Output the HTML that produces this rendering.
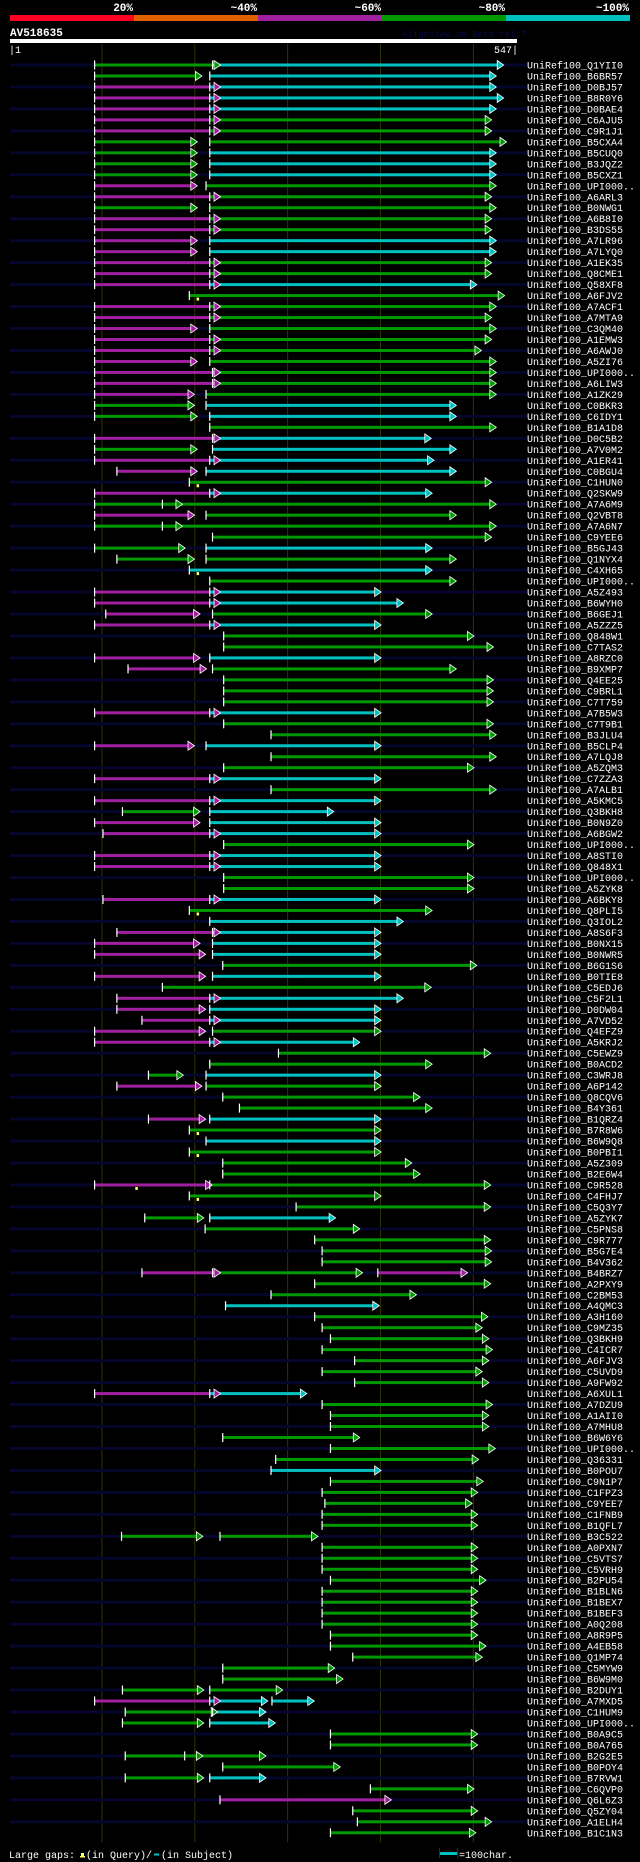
<!DOCTYPE html>
<html><head><meta charset="utf-8">
<style>
html,body{margin:0;padding:0;background:#000;}
svg{display:block;}
text{font-family:"Liberation Mono",monospace;}
</style></head>
<body>
<svg id="chart" width="640" height="1862" viewBox="0 0 640 1862" xmlns="http://www.w3.org/2000/svg">
<rect x="0" y="0" width="640" height="1862" fill="#000"/>
<g>
<text x="133" y="11" fill="#fff" font-size="11" font-weight="bold" text-anchor="end">20%</text>
<text x="257" y="11" fill="#fff" font-size="11" font-weight="bold" text-anchor="end">~40%</text>
<text x="381" y="11" fill="#fff" font-size="11" font-weight="bold" text-anchor="end">~60%</text>
<text x="505" y="11" fill="#fff" font-size="11" font-weight="bold" text-anchor="end">~80%</text>
<text x="629" y="11" fill="#fff" font-size="11" font-weight="bold" text-anchor="end">~100%</text>
<rect x="10" y="15" width="124" height="6" fill="#ff0020"/>
<rect x="134" y="15" width="124" height="6" fill="#e06000"/>
<rect x="258" y="15" width="124" height="6" fill="#a020a0"/>
<rect x="382" y="15" width="124" height="6" fill="#009900"/>
<rect x="506" y="15" width="124" height="6" fill="#00c0c0"/>
</g>
<text x="10" y="36" fill="#fff" font-size="11" font-weight="bold">AV518635</text>
<text x="402" y="37" fill="#0a0a4a" font-size="9">AlignView.pm Beta rel.7</text>
<rect x="10" y="39" width="507" height="4" fill="#fff"/>
<text x="9" y="53" fill="#fff" font-size="10">|1</text>
<text x="518" y="53" fill="#fff" font-size="10" text-anchor="end">547|</text>
<g id="grid"></g>
<g id="rows"></g>
<g>
<text x="9" y="1858" fill="#fff" font-size="10">Large gaps:</text>
<rect x="81" y="1853" width="3" height="4" fill="#ffff66"/>
<rect x="80" y="1856" width="5" height="1.5" fill="#ffff66"/>
<text x="86" y="1858" fill="#fff" font-size="10">(in Query)/</text>
<rect x="154" y="1853.5" width="5" height="2" fill="#00c0c0"/>
<text x="161" y="1858" fill="#fff" font-size="10">(in Subject)</text>
<rect x="439" y="1848" width="1" height="10" fill="#333300"/>
<rect x="457" y="1848" width="1" height="10" fill="#333300"/>
<rect x="440" y="1852" width="17" height="3" fill="#00c0c0"/>
<text x="459" y="1858" fill="#fff" font-size="10">=100char.</text>
</g>
</svg>
<script>
const labels = ["Q1YII0","B6BR57","D0BJ57","B8R0Y6","D0BAE4","C6AJU5","C9R1J1","B5CXA4","B5CUQ0","B3JQZ2","B5CXZ1","UPI000..","A6ARL3","B0NWG1","A6B8I0","B3DS55","A7LR96","A7LYQ0","A1EK35","Q8CME1","Q58XF8","A6FJV2","A7ACF1","A7MTA9","C3QM40","A1EMW3","A6AWJ0","A5ZI76","UPI000..","A6LIW3","A1ZK29","C0BKR3","C6IDY1","B1A1D8","D0C5B2","A7V0M2","A1ER41","C0BGU4","C1HUN0","Q2SKW9","A7A6M9","Q2VBT8","A7A6N7","C9YEE6","B5GJ43","Q1NYX4","C4XH65","UPI000..","A5Z493","B6WYH0","B6GEJ1","A5ZZZ5","Q848W1","C7TAS2","A8RZC0","B9XMP7","Q4EE25","C9BRL1","C7T759","A7B5W3","C7T9B1","B3JLU4","B5CLP4","A7LQJ8","A5ZQM3","C7ZZA3","A7ALB1","A5KMC5","Q3BKH8","B0N9Z0","A6BGW2","UPI000..","A8STI0","Q848X1","UPI000..","A5ZYK8","A6BKY8","Q8PLI5","Q3IOL2","A8S6F3","B0NX15","B0NWR5","B6G1S6","B0TIE8","C5EDJ6","C5F2L1","D0DW04","A7VD52","Q4EFZ9","A5KRJ2","C5EWZ9","B0ACD2","C3WRJ8","A6P142","Q8CQV6","B4Y361","B1QRZ4","B7R8W6","B6W9Q8","B0PBI1","A5Z309","B2E6W4","C9R528","C4FHJ7","C5Q3Y7","A5ZYK7","C5PNS8","C9R777","B5G7E4","B4V362","B4BRZ7","A2PXY9","C2BM53","A4QMC3","A3H160","C9MZ35","Q3BKH9","C4ICR7","A6FJV3","C5UVD9","A9FW92","A6XUL1","A7DZU9","A1AII0","A7MHU8","B6W6Y6","UPI000..","Q36331","B0POU7","C9N1P7","C1FPZ3","C9YEE7","C1FNB9","B1QFL7","B3C522","A0PXN7","C5VTS7","C5VRH9","B2PU54","B1BLN6","B1BEX7","B1BEF3","A0Q208","A8R9P5","A4EB58","Q1MP74","C5MYW9","B6W9M0","B2DUY1","A7MXD5","C1HUM9","UPI000..","B0A9C5","B0A765","B2G2E5","B0POY4","B7RVW1","C6QVP0","Q6L6Z3","Q5ZY04","A1ELH4","B1C1N3"];
const segs = ["g92-225,c219-530","g92-205,c216-522","m92-225,c216-522","m92-225,c216-530","m92-225,c216-522","m92-225,g216-517","m92-225,g216-517","g92-200,g216-533","g92-200,c216-522","g92-200,c216-522","g92-200,c216-522","m92-200,g212-522","m92-225,g216-517","g92-200,g216-522","m92-225,g216-517","m92-225,g216-517","m92-200,c216-522","m92-200,c216-522","m92-225,g216-517","m92-225,g216-517","m92-225,c216-501","g194-531","m92-225,g216-522","m92-225,g216-517","m92-200,g216-522","m92-225,g216-517","m92-225,g216-506","m92-200,g216-522","m92-225,g219-522","m92-225,g219-522","m92-197,g212-522","g92-197,c212-479","g92-200,c216-479","g216-522","m92-225,c219-452","g92-200,c219-479","m92-225,c216-455","m116-200,c212-479","g194-517","m92-225,c216-453","g92-184,g165-522","m92-197,g212-479","g92-184,g165-522","g219-517","g92-187,c212-453","g116-197,g212-479","c194-453","g216-479","m92-225,c216-398","m92-225,c216-422","m104-203,g219-453","m92-225,c216-398","g231-498","g231-519","m92-203,c216-398","m128-210,g219-479","g231-519","g231-519","g231-519","m92-225,c216-398","g231-519","g282-522","m92-197,c212-398","g282-522","g231-498","m92-225,c216-398","g282-522","m92-225,c216-398","g122-203,c216-347","m92-203,c216-398","m101-225,c216-398","g231-498","m92-225,c216-398","m92-225,c216-398","g231-498","g231-498","m101-225,c216-398","g194-453","c216-422","m116-225,c219-398","m92-203,c219-398","m92-209,c219-398","g230-501","m92-209,c219-398","g165-452","m116-225,c216-422","m116-209,c216-398","m143-225,c216-398","m92-209,g219-398","m92-225,c216-375","g290-516","g216-453","g150-185,c212-398","m116-205,g212-398","g230-440","g248-453","m150-209,c216-398","g194-398","c212-398","g194-398","g230-431","g230-440","m92-216,g216-516","g194-398","g309-516","g146-207,c216-349","g211-375","g329-516","g337-517","g337-517","m143-225,g219-378,m397-491","g329-516","g282-436","c233-396","g329-513","g337-507","g346-514","g337-518","g372-514","g337-507","g372-514","m92-225,c216-318","g337-518","g346-514","g346-514","g230-375","g346-521","g287-503","c282-398","g346-508","g337-502","g340-496","g337-502","g337-502","g121-206,g227-330","g337-502","g337-502","g337-502","g346-511","g337-502","g337-502","g337-502","g337-502","g346-502","g346-511","g370-507","g230-348","g230-357","g122-207,g216-292","m92-225,c216-276,c283-326","g125-222,c219-274","g122-207,c216-284","g346-502","g346-502","g125-206,g189-274","g230-354","g125-207,c216-274","g389-498","m227-409","g370-502","g375-517","g346-500"];
const gapRows = [22,39,47,78,98,100,103,104];
const gapPos = [203,203,203,203,203,203,137,203];
const gridTicks = [100,200,300,400,500];

const NS = "http://www.w3.org/2000/svg";
const COLORS = {g:"#009900", c:"#00c0c0", m:"#a020a0"};
const xOf = q => 10 + (q - 1) * (507 / 546);
const yOf = i => 65 + i * 10.98;
function mk(tag, attrs, parent) {
  const el = document.createElementNS(NS, tag);
  for (const k in attrs) el.setAttribute(k, attrs[k]);
  parent.appendChild(el);
  return el;
}
const grid = document.getElementById('grid');
gridTicks.forEach(t => {
  const l = mk('line', {x1: xOf(t), x2: xOf(t), y1: 44, y2: 1842, stroke: '#333300', 'stroke-width': 1}, grid);
  
  
});
const rowsG = document.getElementById('rows');
labels.forEach((lab, i) => {
  const y = yOf(i);
  const g = mk('g', {}, rowsG);
  
  
  if (i % 2 === 0) {
    const s = mk('rect', {x: 10, y: y - 1.5, width: 517, height: 3, fill: '#06062c'}, g);
    
    
  }
  const parts = segs[i].split(',').map(p => {
    const c = p[0]; const [a, b] = p.slice(1).split('-').map(Number);
    return {c, a, b};
  });
  parts.forEach(p => {
    const r = mk('rect', {x: xOf(p.a), y: y - 1.5, width: Math.max(0, xOf(p.b) - xOf(p.a) - 3), height: 3, fill: COLORS[p.c]}, g);
    
    
  });
  parts.forEach(p => {
    const xs = xOf(p.a), xe = xOf(p.b);
    const t = mk('rect', {x: xs - 0.5, y: y - 4.5, width: 1.2, height: 9, fill: '#fff'}, g);
    
    
    const a = mk('polygon', {points: `${xe-4},${y-4.5} ${xe+2.5},${y} ${xe-4},${y+4.5}`, fill: COLORS[p.c], stroke: '#fff', 'stroke-width': 0.8}, g);
    
    
  });
  const tx = mk('text', {x: 527, y: y + 3.5, fill: '#fff', 'font-size': 10}, g);
  tx.textContent = 'UniRef100_' + lab;
  
  
});
gapRows.forEach((r, k) => {
  const x = xOf(gapPos[k]), y = yOf(r - 1);
  const m = mk('rect', {x: x - 1, y: y + 2, width: 2.5, height: 3, fill: '#ffff66'}, rowsG);
  
  
});
</script>
</body></html>
